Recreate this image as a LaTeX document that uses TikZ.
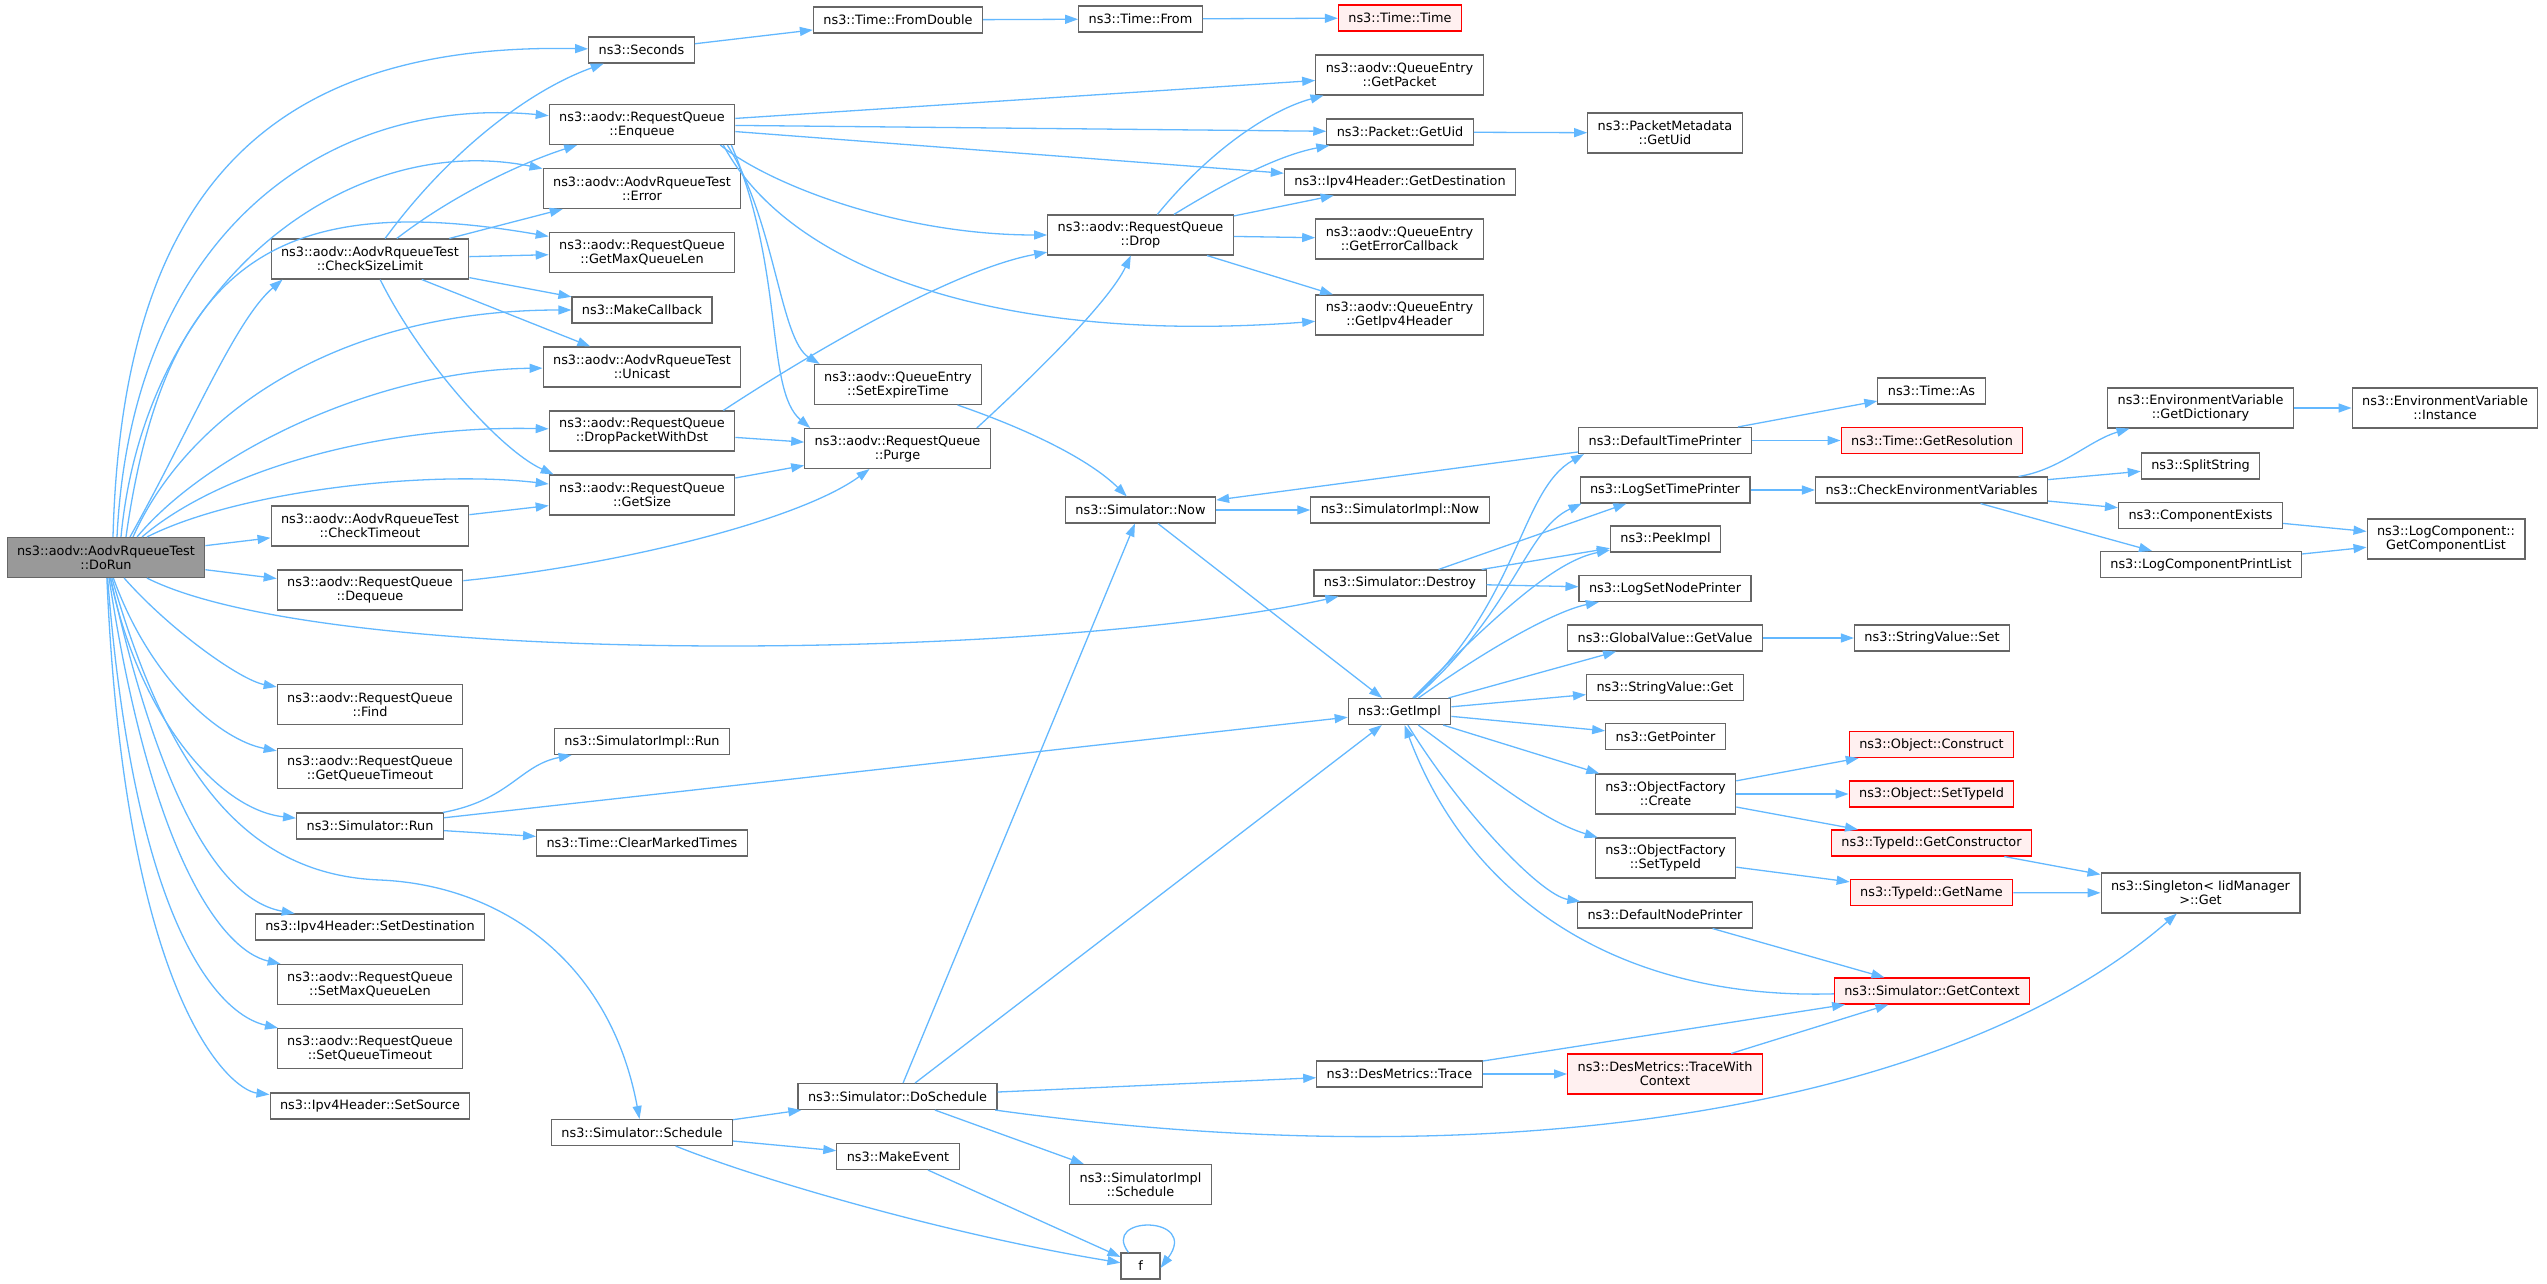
\documentclass[tikz,border=0pt]{standalone}
\usepackage{fontspec}
\setmainfont{DejaVu Sans}
\usepackage{tikz}
\usetikzlibrary{arrows.meta}
\definecolor{edgeblue}{HTML}{63B8FF}
\definecolor{boxgray}{HTML}{666666}
\definecolor{rootgray}{HTML}{999999}
\definecolor{missfill}{HTML}{FFF0F0}

\begin{document}
\begin{tikzpicture}[
    x=1pt, y=-1pt,
    box/.style={rectangle, draw=boxgray, line width=1.1pt, fill=white, minimum width=39pt, minimum height=26pt, inner xsep=10pt, inner ysep=5pt, align=center, font=\fontsize{12.85}{14}\selectfont},
    two/.style={minimum height=40pt},
    root/.style={fill=rootgray},
    miss/.style={draw=red, fill=missfill},
    call/.style={draw=edgeblue, line width=1.3pt, -{Triangle[length=13pt,width=9pt]}}
]
\useasboundingbox (0,0) rectangle (2547,1284);

% caller
\node[box, root, two] (dorun) at (106,557.5) {ns3::aodv::AodvRqueueTest\\::DoRun};

% first level
\node[box, two] (checksize) at (370,259) {ns3::aodv::AodvRqueueTest\\::CheckSizeLimit};
\node[box, two] (checktimeout) at (370,526) {ns3::aodv::AodvRqueueTest\\::CheckTimeout};
\node[box, two] (dequeue) at (370,590) {ns3::aodv::RequestQueue\\::Dequeue};
\node[box, two] (find) at (370,704.5) {ns3::aodv::RequestQueue\\::Find};
\node[box, two] (getqtimeout) at (370,768.5) {ns3::aodv::RequestQueue\\::GetQueueTimeout};
\node[box] (simrun) at (370,826) {ns3::Simulator::Run};
\node[box] (setdest) at (370,927) {ns3::Ipv4Header::SetDestination};
\node[box, two] (setmaxq) at (370,984.5) {ns3::aodv::RequestQueue\\::SetMaxQueueLen};
\node[box, two] (setqtimeout) at (370,1048.5) {ns3::aodv::RequestQueue\\::SetQueueTimeout};
\node[box] (setsource) at (370,1106) {ns3::Ipv4Header::SetSource};

% second level
\node[box] (seconds) at (641.5,50) {ns3::Seconds};
\node[box, two] (enqueue) at (642,124.5) {ns3::aodv::RequestQueue\\::Enqueue};
\node[box, two] (error) at (642,188.5) {ns3::aodv::AodvRqueueTest\\::Error};
\node[box, two] (getmaxq) at (642,252.5) {ns3::aodv::RequestQueue\\::GetMaxQueueLen};
\node[box] (makecb) at (642,310) {ns3::MakeCallback};
\node[box, two] (unicast) at (642,367) {ns3::aodv::AodvRqueueTest\\::Unicast};
\node[box, two] (droppkt) at (642,431) {ns3::aodv::RequestQueue\\::DropPacketWithDst};
\node[box, two] (getsize) at (642,495) {ns3::aodv::RequestQueue\\::GetSize};
\node[box] (implrun) at (642,741.5) {ns3::SimulatorImpl::Run};
\node[box] (clearmarked) at (642,843) {ns3::Time::ClearMarkedTimes};
\node[box] (schedule) at (642,1132.5) {ns3::Simulator::Schedule};

% third level
\node[box] (fromdouble) at (898,20) {ns3::Time::FromDouble};
\node[box, two] (setexpire) at (898,384.5) {ns3::aodv::QueueEntry\\::SetExpireTime};
\node[box, two] (purge) at (897.5,448.5) {ns3::aodv::RequestQueue\\::Purge};
\node[box] (doschedule) at (897.5,1096.5) {ns3::Simulator::DoSchedule};
\node[box] (makeevent) at (898,1156.5) {ns3::MakeEvent};

% fourth level
\node[box] (timefrom) at (1140.5,19) {ns3::Time::From};
\node[box, two] (drop) at (1140.5,235) {ns3::aodv::RequestQueue\\::Drop};
\node[box] (now) at (1140.5,510) {ns3::Simulator::Now};
\node[box, two] (implschedule) at (1140.5,1184.5) {ns3::SimulatorImpl\\::Schedule};
\node[box] (f) at (1140.5,1266) {f};

% fifth level
\node[box, miss] (timetime) at (1400,18) {ns3::Time::Time};
\node[box, two] (getpacket) at (1399.5,75) {ns3::aodv::QueueEntry\\::GetPacket};
\node[box] (pktgetuid) at (1400,132) {ns3::Packet::GetUid};
\node[box] (getdest) at (1400,182) {ns3::Ipv4Header::GetDestination};
\node[box, two] (geterrcb) at (1399.5,239) {ns3::aodv::QueueEntry\\::GetErrorCallback};
\node[box, two] (getipv4) at (1399.5,315) {ns3::aodv::QueueEntry\\::GetIpv4Header};
\node[box] (implnow) at (1400,510) {ns3::SimulatorImpl::Now};
\node[box] (destroy) at (1400,583) {ns3::Simulator::Destroy};
\node[box] (getimpl) at (1399.5,711.5) {ns3::GetImpl};
\node[box] (trace) at (1399.5,1074) {ns3::DesMetrics::Trace};

% sixth level
\node[box, two] (metagetuid) at (1665,133) {ns3::PacketMetadata\\::GetUid};
\node[box] (deftimeprinter) at (1665,440.5) {ns3::DefaultTimePrinter};
\node[box] (logsettime) at (1665,490) {ns3::LogSetTimePrinter};
\node[box] (peekimpl) at (1665.5,539) {ns3::PeekImpl};
\node[box] (logsetnode) at (1665,588.5) {ns3::LogSetNodePrinter};
\node[box] (globalvalue) at (1665,638) {ns3::GlobalValue::GetValue};
\node[box] (stringget) at (1665,687.5) {ns3::StringValue::Get};
\node[box] (getpointer) at (1665.5,736.5) {ns3::GetPointer};
\node[box, two] (ofcreate) at (1665.5,794) {ns3::ObjectFactory\\::Create};
\node[box, two] (ofsettypeid) at (1665.5,858) {ns3::ObjectFactory\\::SetTypeId};
\node[box] (defnodeprinter) at (1665,915) {ns3::DefaultNodePrinter};
\node[box, two, miss] (tracewith) at (1665,1074) {ns3::DesMetrics::TraceWith\\Context};

% seventh level
\node[box] (timeas) at (1931.5,391) {ns3::Time::As};
\node[box, miss] (getres) at (1932,440.5) {ns3::Time::GetResolution};
\node[box] (checkenv) at (1931.5,490) {ns3::CheckEnvironmentVariables};
\node[box] (stringset) at (1932,638) {ns3::StringValue::Set};
\node[box, miss] (construct) at (1931.5,744.5) {ns3::Object::Construct};
\node[box, miss] (objsettypeid) at (1931.5,794) {ns3::Object::SetTypeId};
\node[box, miss] (getctor) at (1931.5,843) {ns3::TypeId::GetConstructor};
\node[box, miss] (getname) at (1931.5,892.5) {ns3::TypeId::GetName};
\node[box, miss] (getcontext) at (1932,991) {ns3::Simulator::GetContext};

% eighth and ninth level
\node[box, two] (getdict) at (2200.5,408) {ns3::EnvironmentVariable\\::GetDictionary};
\node[box] (splitstring) at (2200.5,466) {ns3::SplitString};
\node[box] (compexists) at (2200.5,515.5) {ns3::ComponentExists};
\node[box] (logcompprint) at (2201,564.5) {ns3::LogComponentPrintList};
\node[box, two] (singleton) at (2200.5,893) {ns3::Singleton< IidManager\\ >::Get};
\node[box, two] (instance) at (2445,408) {ns3::EnvironmentVariable\\::Instance};
\node[box, two] (getcomplist) at (2446,539) {ns3::LogComponent::\\GetComponentList};

% DoRun calls
\draw[call] ([xshift=7pt]dorun.north) .. controls (122,200) and (260,42) .. (seconds);
\draw[call] ([xshift=11pt]dorun.north) .. controls (132,230) and (330,95) .. (enqueue);
\draw[call] ([xshift=15pt]dorun.north) .. controls (145,280) and (350,130) .. (error);
\draw[call] ([xshift=20pt]dorun.north) .. controls (165,260) and (280,190) .. (getmaxq);
\draw[call] ([xshift=24pt]dorun.north) .. controls (190,430) and (235,320) .. ([xshift=12pt]checksize.south west);
\draw[call] ([xshift=27pt]dorun.north) .. controls (185,420) and (330,310) .. (makecb);
\draw[call] ([xshift=31pt]dorun.north) .. controls (210,450) and (380,370) .. (unicast);
\draw[call] ([xshift=36pt]dorun.north) .. controls (220,470) and (380,425) .. (droppkt);
\draw[call] ([xshift=41pt]dorun.north) .. controls (240,490) and (430,470) .. (getsize);
\draw[call] (dorun) -- (checktimeout);
\draw[call] (dorun) -- (dequeue);
\draw[call] (dorun) .. controls (330,670) and (1050,660) .. (destroy);
\draw[call] (dorun) .. controls (170,630) and (240,680) .. (find);
\draw[call] (dorun) .. controls (150,680) and (220,740) .. (getqtimeout);
\draw[call] (dorun) .. controls (140,720) and (220,810) .. (simrun);
\draw[call] (dorun) .. controls (170,780) and (250,875) .. (380,880) .. controls (500,885) and (610,960) .. (schedule);
\draw[call] (dorun) .. controls (160,800) and (220,900) .. (setdest);
\draw[call] (dorun) .. controls (150,850) and (220,950) .. (setmaxq);
\draw[call] (dorun) .. controls (135,930) and (220,1015) .. (setqtimeout);
\draw[call] (dorun) .. controls (125,1000) and (230,1090) .. (setsource);

% CheckSizeLimit calls
\draw[call] (checksize) .. controls (450,150) and (530,90) .. (seconds);
\draw[call] (checksize) .. controls (460,190) and (530,160) .. (enqueue);
\draw[call] (checksize) -- (error);
\draw[call] (checksize) -- (getmaxq);
\draw[call] (checksize) -- (makecb);
\draw[call] (checksize) -- (unicast);
\draw[call] (checksize) .. controls (420,360) and (500,450) .. ([xshift=5pt]getsize.north west);

% Enqueue calls
\draw[call] (enqueue) -- (getpacket);
\draw[call] (enqueue) -- (pktgetuid);
\draw[call] (enqueue) -- (getdest);
\draw[call] ([xshift=-15pt]enqueue.south east) .. controls (770,185) and (900,235) .. (drop);
\draw[call] ([xshift=-12pt]enqueue.south east) .. controls (790,270) and (1000,345) .. (getipv4);
\draw[call] ([xshift=-8pt]enqueue.south east) .. controls (775,220) and (780,340) .. ([xshift=6pt]setexpire.north west);
\draw[call] ([xshift=-4pt]enqueue.south east) .. controls (785,270) and (765,390) .. ([xshift=6pt]purge.north west);

% Seconds chain
\draw[call] (seconds) -- (fromdouble);
\draw[call] (fromdouble) -- (timefrom);
\draw[call] (timefrom) -- (timetime);

% Drop calls
\draw[call] (drop) .. controls (1210,150) and (1270,110) .. (getpacket);
\draw[call] (drop) .. controls (1230,180) and (1280,155) .. (pktgetuid);
\draw[call] (drop) -- (getdest);
\draw[call] (drop) -- (geterrcb);
\draw[call] (drop) -- (getipv4);
\draw[call] (pktgetuid) -- (metagetuid);

% Purge and queue helpers
\draw[call] ([xshift=-14pt]purge.north east) .. controls (1040,370) and (1110,300) .. (drop);
\draw[call] ([xshift=-12pt]droppkt.north east) .. controls (800,360) and (950,270) .. (drop);
\draw[call] (droppkt) -- (purge);
\draw[call] (getsize) -- (purge);
\draw[call] (dequeue) .. controls (620,565) and (800,520) .. (purge);
\draw[call] (checktimeout) -- (getsize);
\draw[call] (setexpire) .. controls (1030,430) and (1090,460) .. (now);

% Now and Run
\draw[call] (deftimeprinter) -- (now);
\draw[call] (now) -- (implnow);
\draw[call] (now) -- (getimpl);
\draw[call] (simrun) -- (getimpl);
\draw[call] (simrun) .. controls (510,800) and (520,765) .. (implrun);
\draw[call] (simrun) -- (clearmarked);

% Schedule calls
\draw[call] (schedule) -- (doschedule);
\draw[call] (schedule) -- (makeevent);
\draw[call] (schedule) .. controls (760,1180) and (950,1235) .. (f);
\draw[call] (makeevent) -- (f);
\draw[call] ([xshift=-12pt]f.north) .. controls (1100,1215) and (1200,1215) .. ([yshift=-2pt]f.east);

% DoSchedule calls
\draw[call] (doschedule) -- (now);
\draw[call] (doschedule) -- (getimpl);
\draw[call] (doschedule) -- (trace);
\draw[call] (doschedule) -- (implschedule);
\draw[call] (doschedule) .. controls (1500,1180) and (1950,1110) .. (singleton);

% DesMetrics and context
\draw[call] (trace) -- (tracewith);
\draw[call] (trace) -- (getcontext);
\draw[call] (tracewith) -- (getcontext);
\draw[call] (defnodeprinter) -- (getcontext);
\draw[call] (getcontext) .. controls (1620,1000) and (1470,900) .. (getimpl);

% GetImpl calls
\draw[call] (getimpl) .. controls (1520,600) and (1520,490) .. ([xshift=6pt]deftimeprinter.south west);
\draw[call] (getimpl) .. controls (1515,610) and (1525,530) .. ([xshift=2pt]logsettime.south west);
\draw[call] (getimpl) .. controls (1510,600) and (1560,560) .. (peekimpl);
\draw[call] (getimpl) .. controls (1500,640) and (1560,610) .. (logsetnode);
\draw[call] (getimpl) -- (globalvalue);
\draw[call] (getimpl) -- (stringget);
\draw[call] (getimpl) -- (getpointer);
\draw[call] (getimpl) -- (ofcreate);
\draw[call] (getimpl) .. controls (1480,770) and (1540,820) .. (ofsettypeid);
\draw[call] (getimpl) .. controls (1460,810) and (1540,895) .. (defnodeprinter);

% Destroy calls
\draw[call] (destroy) -- (logsettime);
\draw[call] (destroy) -- (peekimpl);
\draw[call] (destroy) -- (logsetnode);

% printers and environment
\draw[call] (deftimeprinter) -- (timeas);
\draw[call] (deftimeprinter) -- (getres);
\draw[call] (logsettime) -- (checkenv);
\draw[call] (checkenv) .. controls (2060,470) and (2090,440) .. (getdict);
\draw[call] (checkenv) -- (splitstring);
\draw[call] (checkenv) -- (compexists);
\draw[call] (checkenv) -- (logcompprint);
\draw[call] (getdict) -- (instance);
\draw[call] (compexists) -- (getcomplist);
\draw[call] (logcompprint) -- (getcomplist);

% object factory
\draw[call] (globalvalue) -- (stringset);
\draw[call] (ofcreate) -- (construct);
\draw[call] (ofcreate) -- (objsettypeid);
\draw[call] (ofcreate) -- (getctor);
\draw[call] (ofsettypeid) -- (getname);
\draw[call] (getctor) -- (singleton);
\draw[call] (getname) -- (singleton);

\end{tikzpicture}
\end{document}
